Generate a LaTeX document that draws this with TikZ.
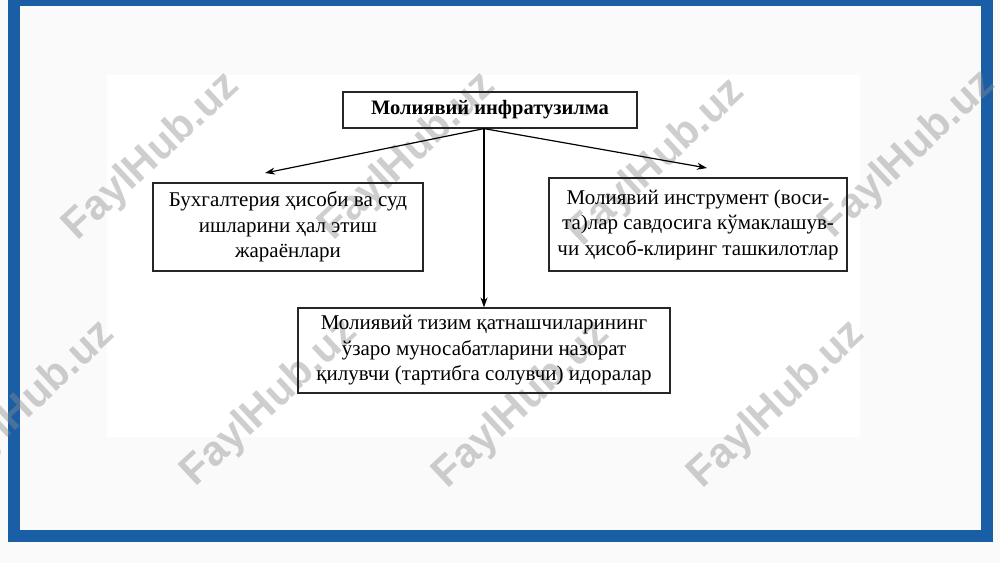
\documentclass[tikz,border=0pt]{standalone}
\usepackage{fontspec}
\setmainfont{Liberation Serif}
\newfontfamily\wmfont{Liberation Sans}
\usetikzlibrary{arrows.meta}
\definecolor{frameblue}{RGB}{26,94,166}
\definecolor{bgpage}{RGB}{250,250,250}
\definecolor{wmgray}{RGB}{140,140,140}
\begin{document}
\begin{tikzpicture}[x=1pt,y=-1pt,
  box/.style={draw=black!85,line width=1.2pt,align=center,inner sep=0pt,
    font=\fontsize{21}{25.5}\selectfont},
  arr/.style={line width=1.2pt,-{Stealth[length=10pt,width=7pt]}},
  wm/.style={font=\wmfont\bfseries\fontsize{42}{42}\selectfont,
    text=wmgray,text opacity=0.42,rotate=43,inner sep=0pt}]
\useasboundingbox (0,0) rectangle (1000,563);
\fill[bgpage] (0,0) rectangle (1000,563);
\fill[white] (107,75) rectangle (860,437);
\draw[frameblue,line width=12pt] (13.5,0) rectangle (986.5,535.5);
% watermarks
\foreach \wx/\wy [count=\i] in {152/157,408/157,657/163,908/155,27/405,270/403,522/405,777/405}
  \node[wm] (wm\i) at (\wx,\wy) {FaylHub.uz};
% diagram
\node[box,minimum width=294,minimum height=36,
  font=\fontsize{20.5}{24}\selectfont\bfseries] (top) at (490,110) {Молиявий инфратузилма};
\node[box,minimum width=270,minimum height=88] (acc) at (288,227)
  {Бухгалтерия ҳисоби ва суд\\ишларини ҳал этиш\\жараёнлари};
\node[box,minimum width=298,minimum height=93] (clr) at (698,224.5)
  {Молиявий инструмент (воси-\\та)лар савдосига кўмаклашув-\\чи ҳисоб-клиринг ташкилотлар};
\node[box,minimum width=372,minimum height=85] (reg) at (484,350.5)
  {Молиявий тизим қатнашчиларининг\\ўзаро муносабатларини назорат\\қилувчи (тартибга солувчи) идоралар};
\coordinate (o) at (top.south -| reg.north);
\coordinate (la) at (265,173);
\coordinate (ra) at (707,168);
\draw[arr] (o) -- (la);
\draw[arr] (o) -- (ra);
\draw[arr] (o) -- (reg.north);
\end{tikzpicture}
\end{document}
